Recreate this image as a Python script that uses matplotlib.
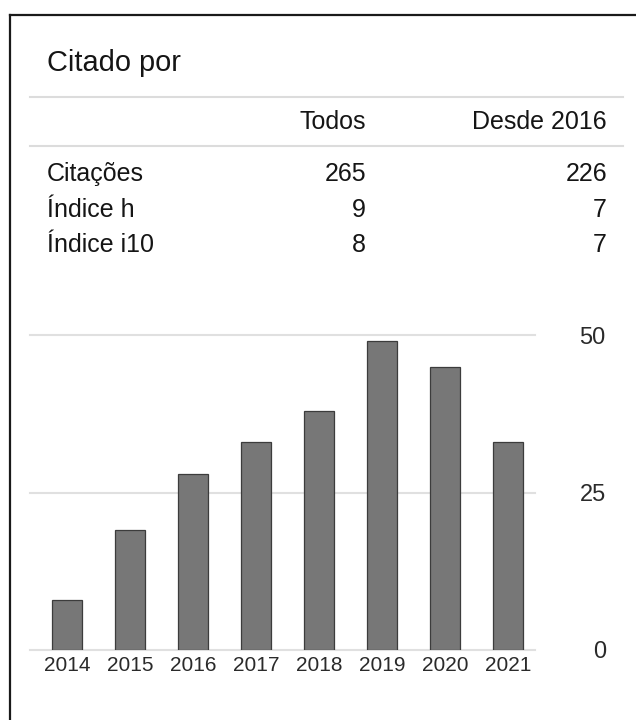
import numpy as np
import matplotlib
matplotlib.use("Agg")
import matplotlib.pyplot as plt
from matplotlib.lines import Line2D

plt.rcParams['font.family'] = ['Liberation Sans', 'DejaVu Sans']

# data
years = ['2014', '2015', '2016', '2017', '2018', '2019', '2020', '2021']
citations = [8, 19, 28, 33, 38, 49, 45, 33]
row_labels = ['Citações', 'Índice h', 'Índice i10']
col_labels = ['Todos', 'Desde 2016']
all_vals = ['265', '9', '8']
since_vals = ['226', '7', '7']
yticks = [0, 25, 50]

W, H = 636, 720
fig = plt.figure(figsize=(W / 100, H / 100), dpi=100)

def fx(px):
    return px / W

def fy(py):
    return 1 - py / H

# frame of the screenshot (left and top edges only)
fig.add_artist(Line2D([fx(10), fx(10)], [fy(15), 0], color='#1a1a1a', lw=1.6))
fig.add_artist(Line2D([fx(10), 1], [fy(15), fy(15)], color='#1a1a1a', lw=1.6))

# header block
txt = '#151515'
fig.text(fx(47), fy(71), 'Citado por', fontsize=20.9, color=txt, va='baseline')
for y in (97, 146):
    fig.add_artist(Line2D([fx(30), fx(623)], [fy(y), fy(y)], color='#dcdcdc', lw=1.5))

fig.text(fx(366), fy(129), col_labels[0], fontsize=18, color=txt, ha='right', va='baseline')
fig.text(fx(607), fy(129), col_labels[1], fontsize=18, color=txt, ha='right', va='baseline')
baselines = [181, 217, 252]
for lab, a, s, b in zip(row_labels, all_vals, since_vals, baselines):
    fig.text(fx(47), fy(b), lab, fontsize=18, color=txt, va='baseline')
    fig.text(fx(366), fy(b), a, fontsize=18, color=txt, ha='right', va='baseline')
    fig.text(fx(607), fy(b), s, fontsize=18, color=txt, ha='right', va='baseline')

# bar chart
ax = fig.add_axes([fx(30), fy(650), fx(535) - fx(30), fy(335) - fy(650)])
x = np.arange(len(years))
ax.bar(x, citations, width=0.476, color='#777777', edgecolor='#3c3c3c', linewidth=0.9, zorder=3)
for t in yticks:
    ax.axhline(t, color='#e0e0e0', lw=1.5, clip_on=False, zorder=1)
ax.set_xlim(-0.587, 7.43)
ax.set_ylim(0, 50)
for sp in ax.spines.values():
    sp.set_visible(False)
ax.set_xticks(x)
ax.set_xticklabels(years, fontsize=15, color='#2a2a2a')
ax.tick_params(axis='x', length=0, pad=4)
ax.yaxis.tick_right()
ax.set_yticks(yticks)
ax.set_yticklabels([str(t) for t in yticks], fontsize=17, color='#2a2a2a', ha='right')
ax.tick_params(axis='y', length=0, pad=51)
ax.patch.set_alpha(0)

fig.savefig('out.png', dpi=100, facecolor='white')
